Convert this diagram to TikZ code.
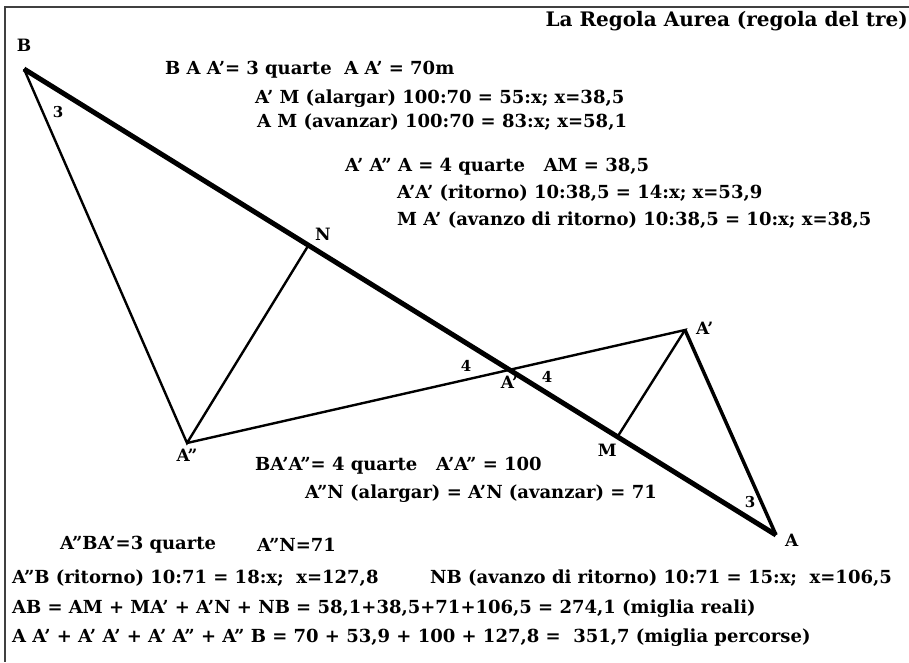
\documentclass[tikz,border=0pt]{standalone}
\usepackage{fontspec}
\setmainfont{DejaVu Serif}
\usetikzlibrary{positioning,calc}

\begin{document}
\begin{tikzpicture}[x=1pt, y=-1pt,
  txt/.style={anchor=west, inner sep=0pt, font=\bfseries\fontsize{18}{20}\selectfont},
  pt/.style={inner sep=1pt, font=\bfseries\fontsize{17}{19}\selectfont},
  ang/.style={inner sep=0pt, font=\bfseries\fontsize{15}{17}\selectfont},
  main/.style={line width=5pt},
  side/.style={line width=2.4pt},
  frame/.style={line width=1.3pt, black!75}
]
\useasboundingbox (0,0) rectangle (909,662);
\draw[frame] (909,7) -- (5,7) -- (5,662);

% points of the course
\coordinate (B) at (24,69);
\coordinate (A) at (776,535);
\coordinate (N) at (308,246);
\coordinate (M) at (618,436);
\coordinate (App) at (187,443);
\coordinate (Ap) at (685,330);
\coordinate (X) at (intersection of B--A and App--Ap);

\draw[main] (B) -- (A);
\draw[side] (B) -- (App) -- (N);
\draw[side] (App) -- (Ap) -- (M);
\draw[side, line width=3.5pt] (Ap) -- (A);

\node[pt, above=16pt of B] (labB) {B};
\node[pt, above right=4pt and 6pt of N] (labN) {N};
\node[pt, below=5pt of App] (labApp) {A''};
\node[pt, below=5pt of X] (labX) {A'};
\node[pt, below left=7pt and 0pt of M] (labM) {M};
\node[pt, above right=-6pt and 10pt of Ap] (labAp) {A'};
\node[pt, below right=-2pt and 8pt of A] (labA) {A};

\node[ang] (angB) at (58,112) {3};
\node[ang] (angA) at (750,502) {3};
\node[ang] (angX1) at (466,366) {4};
\node[ang] (angX2) at (547,377) {4};

% title and the working
\node[anchor=east, inner sep=0pt, font=\bfseries\fontsize{20}{22}\selectfont] (title) at (908,21) {La Regola Aurea (regola del tre)};
\node[txt] (r1) at (165,70) {B A A'= 3 quarte\ \ A A' = 70m};
\node[txt] (r2) at (255,99) {A' M (alargar) 100:70 = 55:x; x=38,5};
\node[txt] (r3) at (257,122) {A M (avanzar) 100:70 = 83:x; x=58,1};
\node[txt] (r4) at (345,167) {A' A'' A = 4 quarte\ \ \ AM = 38,5};
\node[txt] (r5) at (397,193) {A'A' (ritorno) 10:38,5 = 14:x; x=53,9};
\node[txt] (r6) at (397,220) {M A' (avanzo di ritorno) 10:38,5 = 10:x; x=38,5};
\node[txt] (r7) at (255,466) {BA'A''= 4 quarte\ \ \ A'A'' = 100};
\node[txt] (r8) at (305,494) {A''N (alargar) = A'N (avanzar) = 71};
\node[txt] (r9) at (60,545) {A''BA'=3 quarte};
\node[txt] (r9b) at (257,545) {A''N=71};
\node[txt] (r10) at (12,578) {A''B (ritorno) 10:71 = 18:x;\ \ x=127,8};
\node[txt] (r10b) at (430,578) {NB (avanzo di ritorno) 10:71 = 15:x;\ \ x=106,5};
\node[txt] (r11) at (12,609) {AB = AM + MA' + A'N + NB = 58,1+38,5+71+106,5 = 274,1 (miglia reali)};
\node[txt] (r12) at (12,638) {A A' + A' A' + A' A'' + A'' B = 70 + 53,9 + 100 + 127,8 =\ \ 351,7 (miglia percorse)};
\end{tikzpicture}
\end{document}
